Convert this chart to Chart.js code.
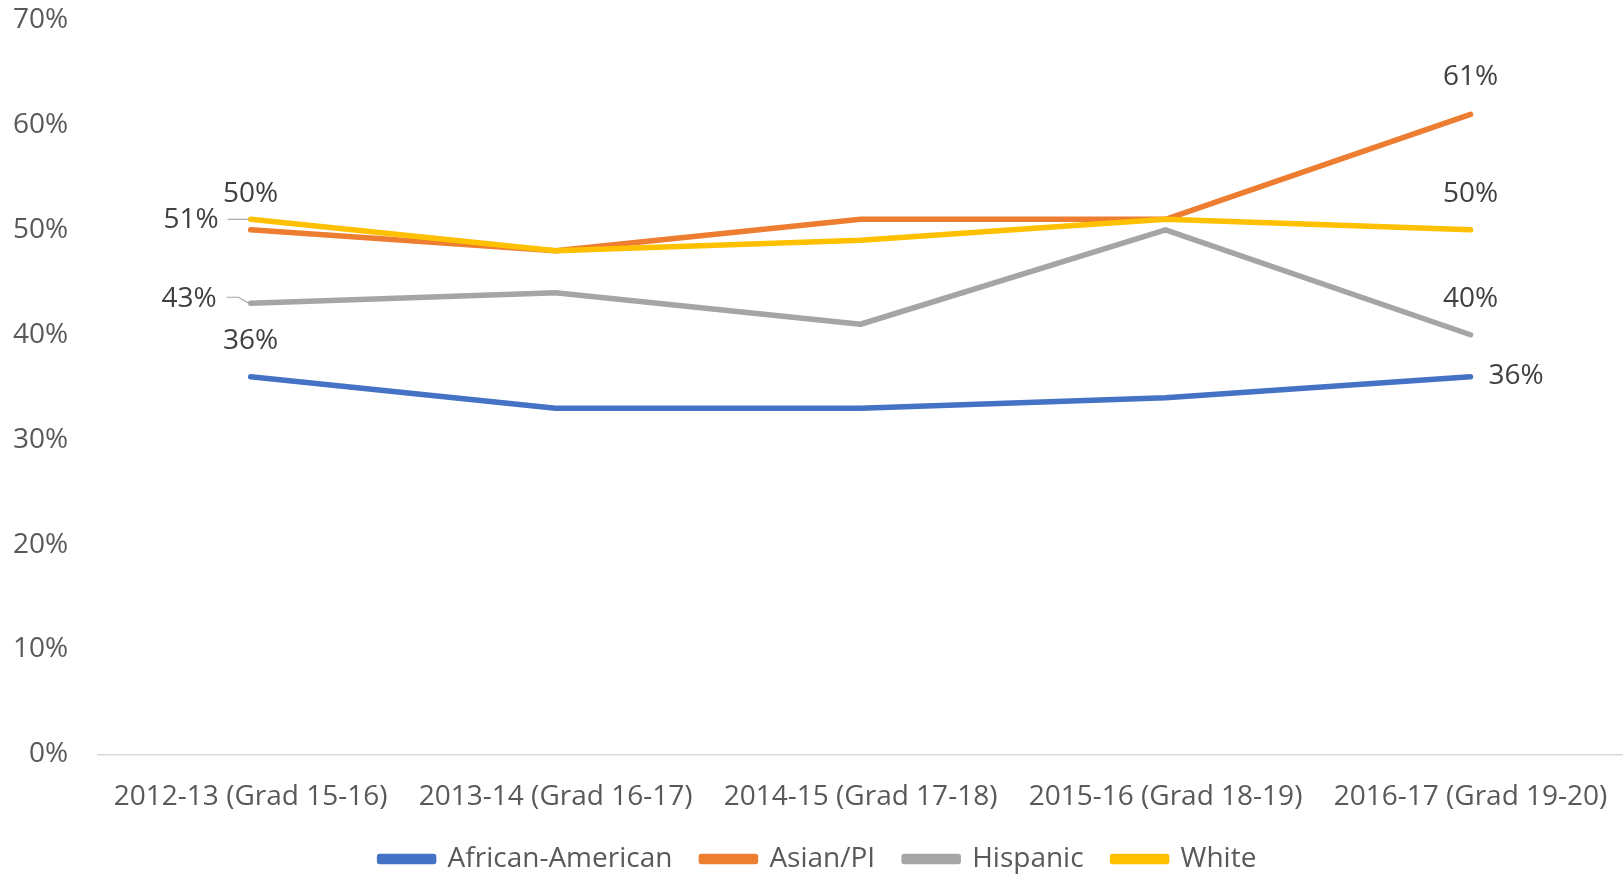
<!DOCTYPE html>
<html>
<head>
<meta charset="utf-8">
<script src="https://cdn.jsdelivr.net/npm/chart.js@4.4.0/dist/chart.umd.min.js"></script>
<style>
  html, body { margin: 0; padding: 0; background: #fff; }
  #wrap { width: 1623px; height: 874px; }
</style>
</head>
<body>
<div id="wrap"><canvas id="myChart"></canvas></div>
<script>
// chart data
const years = ["2012-13 (Grad 15-16)", "2013-14 (Grad 16-17)", "2014-15 (Grad 17-18)", "2015-16 (Grad 18-19)", "2016-17 (Grad 19-20)"];
const africanAmerican = [36, 33, 33, 34, 36];
const asianPI = [50, 48, 51, 51, 61];
const hispanic = [43, 44, 41, 50, 40];
const white = [51, 48, 49, 51, 50];
const yMin = 0;
const yMax = 70;
const yStep = 10;

const fontFamily = "'Open Sans', sans-serif";

// where each visible value label sits relative to its point
const labelSpots = [
    { ds: 0, idx: 0, dx: 0, dy: -36, align: 'center' },
    { ds: 1, idx: 0, dx: 0, dy: -36, align: 'center' },
    { ds: 3, idx: 0, dx: -32, dy: 1, align: 'right', leader: [[-23, 0], [-2, 0]] },
    { ds: 2, idx: 0, dx: -34, dy: -4, align: 'right', leader: [[-24, -6], [-12, -6], [-2, 0]] },
    { ds: 1, idx: 4, dx: 0, dy: -37, align: 'center' },
    { ds: 3, idx: 4, dx: 0, dy: -36, align: 'center' },
    { ds: 2, idx: 4, dx: 0, dy: -36, align: 'center' },
    { ds: 0, idx: 4, dx: 18, dy: -1, align: 'left' }
];

const valueLabels = {
    id: 'valueLabels',
    afterDatasetsDraw(chart) {
        const ctx = chart.ctx;
        ctx.save();
        ctx.font = "28px " + fontFamily;
        ctx.fillStyle = '#404040';
        ctx.textBaseline = 'middle';
        labelSpots.forEach(function (s) {
            const pt = chart.getDatasetMeta(s.ds).data[s.idx];
            const value = chart.data.datasets[s.ds].data[s.idx];
            if (s.leader) {
                ctx.strokeStyle = '#a6a6a6';
                ctx.lineWidth = 1.2;
                ctx.beginPath();
                s.leader.forEach(function (p, i) {
                    if (i === 0) ctx.moveTo(pt.x + p[0], pt.y + p[1]);
                    else ctx.lineTo(pt.x + p[0], pt.y + p[1]);
                });
                ctx.stroke();
            }
            ctx.textAlign = s.align;
            ctx.fillText(value + '%', pt.x + s.dx, pt.y + s.dy);
        });
        ctx.restore();
    }
};

function makeSeries(label, data, color, order) {
    return {
        label: label,
        data: data,
        borderColor: color,
        backgroundColor: color,
        borderWidth: 5.5,
        borderCapStyle: 'round',
        borderJoinStyle: 'round',
        pointRadius: 0,
        tension: 0,
        order: order
    };
}

const myChart = new Chart("myChart", {
    type: "line",
    data: {
        labels: years,
        datasets: [
            makeSeries("African-American", africanAmerican, "#4472C4", 3),
            makeSeries("Asian/PI", asianPI, "#ED7D31", 2),
            makeSeries("Hispanic", hispanic, "#A5A5A5", 1),
            makeSeries("White", white, "#FFC000", 0)
        ]
    },
    options: {
        responsive: true,
        maintainAspectRatio: false,
        animation: false,
        layout: {
            padding: { top: 20, left: 13, right: 0, bottom: -9 }
        },
        plugins: {
            tooltip: { enabled: false },
            legend: {
                position: 'bottom',
                labels: {
                    boxWidth: 54,
                    boxHeight: 5,
                    padding: 29,
                    color: '#595959',
                    font: { family: fontFamily, size: 28 },
                    sort: (a, b) => a.datasetIndex - b.datasetIndex
                }
            }
        },
        scales: {
            x: {
                offset: true,
                grid: { display: false, drawTicks: false },
                border: { display: true, color: '#d9d9d9', width: 1.5 },
                ticks: {
                    color: '#595959',
                    padding: 26,
                    maxRotation: 0,
                    autoSkip: false,
                    font: { family: fontFamily, size: 28 }
                },
                afterFit: function (scale) {
                    scale.paddingLeft = 0;
                    scale.paddingRight = 0;
                    scale.height -= 24;
                }
            },
            y: {
                min: yMin,
                max: yMax,
                grid: { display: false, drawTicks: false },
                border: { display: false },
                ticks: {
                    stepSize: yStep,
                    color: '#595959',
                    padding: 30,
                    font: { family: fontFamily, size: 28 },
                    callback: (v) => v + '%'
                },
                afterFit: function (scale) {
                    scale.paddingTop = 0;
                    scale.paddingBottom = 0;
                    scale.width -= 30;
                }
            }
        }
    },
    plugins: [valueLabels]
});
</script>
</body>
</html>
